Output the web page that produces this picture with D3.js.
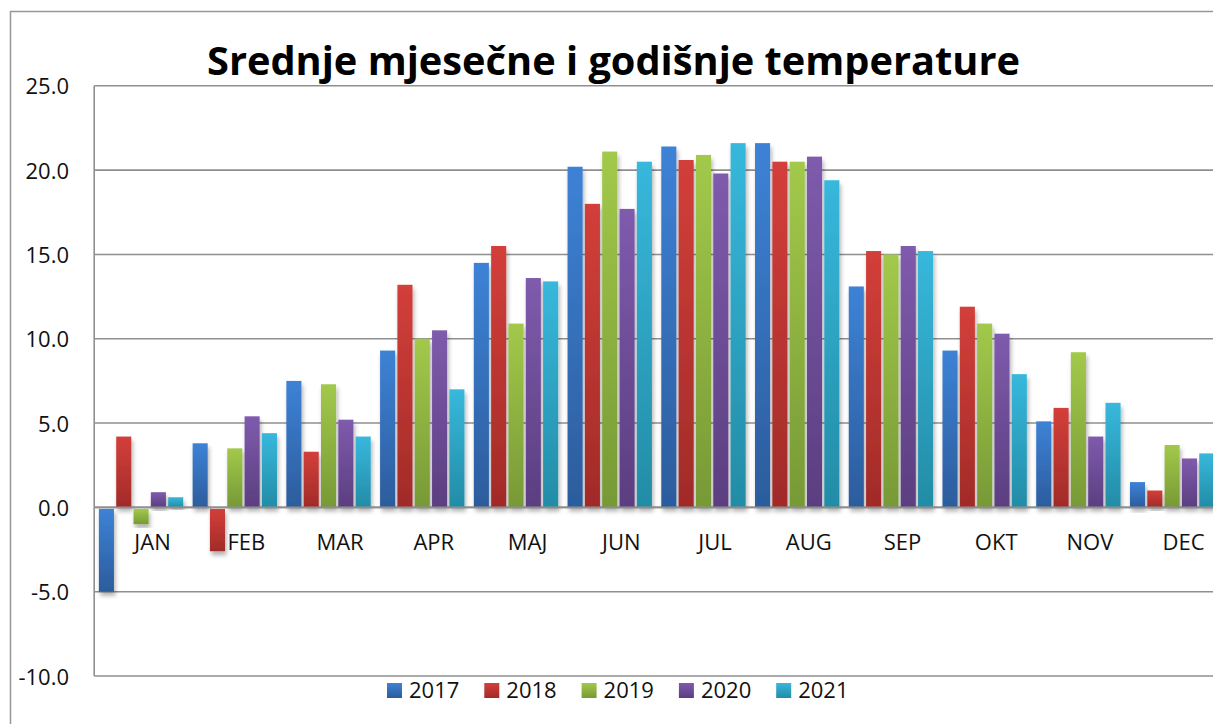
<!DOCTYPE html>
<html>
<head>
<meta charset="utf-8">
<script src="https://cdn.jsdelivr.net/npm/d3@7"></script>
<style>
  html, body { margin: 0; padding: 0; background: #fff; }
  svg { display: block; font-family: 'Open Sans', 'Liberation Sans', sans-serif; }
</style>
</head>
<body>
<svg id="chart" width="1213" height="724"></svg>
<script>
// categories and series
const months = ['JAN', 'FEB', 'MAR', 'APR', 'MAJ', 'JUN', 'JUL', 'AUG', 'SEP', 'OKT', 'NOV', 'DEC'];
const years = ['2017', '2018', '2019', '2020', '2021'];
const t2017 = [-5.0, 3.8, 7.5, 9.3, 14.5, 20.2, 21.4, 21.6, 13.1, 9.3, 5.1, 1.5];
const t2018 = [4.2, -2.6, 3.3, 13.2, 15.5, 18.0, 20.6, 20.5, 15.2, 11.9, 5.9, 1.0];
const t2019 = [-1.0, 3.5, 7.3, 10.0, 10.9, 21.1, 20.9, 20.5, 15.0, 10.9, 9.2, 3.7];
const t2020 = [0.9, 5.4, 5.2, 10.5, 13.6, 17.7, 19.8, 20.8, 15.5, 10.3, 4.2, 2.9];
const t2021 = [0.6, 4.4, 4.2, 7.0, 13.4, 20.5, 21.6, 19.4, 15.2, 7.9, 6.2, 3.2];
const yTicks = [-10, -5, 0, 5, 10, 15, 20, 25];
const title = 'Srednje mjesečne i godišnje temperature';

const series = [t2017, t2018, t2019, t2020, t2021];
// gradient stops (top, bottom) per year
const colors = [
  ['#3d82d6', '#2c5c9c'],
  ['#d33f3a', '#a12b28'],
  ['#a2c94a', '#779936'],
  ['#7f5bad', '#5b3e80'],
  ['#37b8dc', '#238ca6']
];

const svg = d3.select('#chart');
const defs = svg.append('defs');

colors.forEach((c, i) => {
  const g = defs.append('linearGradient')
    .attr('id', `grad${i}`)
    .attr('x1', 0).attr('y1', 0).attr('x2', 0).attr('y2', 1);
  g.append('stop').attr('offset', '0%').attr('stop-color', c[0]);
  g.append('stop').attr('offset', '100%').attr('stop-color', c[1]);
});

const shadow = defs.append('filter').attr('id', 'shadow')
  .attr('x', '-30%').attr('y', '-10%').attr('width', '180%').attr('height', '130%');
shadow.append('feDropShadow')
  .attr('dx', 1.5).attr('dy', 4).attr('stdDeviation', 2.2)
  .attr('flood-color', '#000').attr('flood-opacity', 0.3);

// outer chart border
svg.append('rect')
  .attr('x', 10.5).attr('y', 11.5)
  .attr('width', 1250).attr('height', 760)
  .attr('fill', '#fff')
  .attr('stroke', '#969696').attr('stroke-width', 1.5);

const plot = { left: 94.2, right: 1219, top: 85.8, bottom: 676 };

const y = d3.scaleLinear().domain([-10, 25]).range([plot.bottom, plot.top]);
const x0 = d3.scaleBand().domain(months).range([plot.left, plot.right])
  .paddingInner(0.1).paddingOuter(0.05);
const x1 = d3.scaleBand().domain(years).range([0, x0.bandwidth()])
  .paddingInner(0.13).paddingOuter(0);

// gridlines
svg.append('g')
  .selectAll('line')
  .data(yTicks)
  .enter().append('line')
  .attr('x1', plot.left).attr('x2', plot.right + 20)
  .attr('y1', d => y(d)).attr('y2', d => y(d))
  .attr('stroke', '#8f8f8f').attr('stroke-width', 1.6);

// plot area left border
svg.append('line')
  .attr('x1', plot.left).attr('x2', plot.left)
  .attr('y1', plot.top).attr('y2', plot.bottom)
  .attr('stroke', '#8f8f8f').attr('stroke-width', 1.6);

// y tick labels (plain hyphen for minus, like the original)
svg.append('g')
  .selectAll('text')
  .data(yTicks)
  .enter().append('text')
  .attr('x', 69)
  .attr('y', d => y(d) + 8.5)
  .attr('text-anchor', 'end')
  .attr('font-size', 22)
  .attr('fill', '#111')
  .text(d => d3.format('.1f')(d).replace('\u2212', '-'));

// bars
const groups = svg.append('g')
  .selectAll('g')
  .data(months)
  .enter().append('g')
  .attr('transform', d => `translate(${x0(d)},0)`);

groups.selectAll('rect')
  .data((m, mi) => years.map((yr, yi) => ({ yr, yi, v: series[yi][mi] })))
  .enter().append('rect')
  .attr('x', d => x1(d.yr))
  .attr('width', x1.bandwidth())
  .attr('y', d => d.v >= 0 ? y(d.v) : y(0) + 1.5)
  .attr('height', d => d.v >= 0 ? y(0) - y(d.v) : y(d.v) - y(0) - 1.5)
  .attr('fill', d => `url(#grad${d.yi})`)
  .attr('filter', 'url(#shadow)');

// zero line on top
svg.append('line')
  .attr('x1', plot.left).attr('x2', plot.right + 20)
  .attr('y1', y(0)).attr('y2', y(0))
  .attr('stroke', '#8f8f8f').attr('stroke-width', 1.6);

// month labels
svg.append('g')
  .selectAll('text')
  .data(months)
  .enter().append('text')
  .attr('x', d => x0(d) + x0.bandwidth() / 2 + 11.5)
  .attr('y', y(0) + 43)
  .attr('text-anchor', 'middle')
  .attr('font-size', 22)
  .attr('fill', '#111')
  .text(d => d);

// title
const titleText = svg.append('text')
  .attr('x', 613.5).attr('y', 75)
  .attr('text-anchor', 'middle')
  .attr('font-size', 42)
  .attr('font-weight', 'bold')
  .attr('fill', '#000')
  .text(title);
const tw = titleText.node().getComputedTextLength();
titleText.attr('font-size', 42 * 813 / tw);

// legend
const legend = svg.append('g').attr('transform', 'translate(387,683)');
const items = legend.selectAll('g')
  .data(years)
  .enter().append('g')
  .attr('transform', (d, i) => `translate(${i * 97.3},0)`);
items.append('rect')
  .attr('width', 15).attr('height', 15)
  .attr('fill', (d, i) => `url(#grad${i})`);
items.append('text')
  .attr('x', 22).attr('y', 15)
  .attr('font-size', 22)
  .attr('fill', '#111')
  .text(d => d);
</script>
</body>
</html>
